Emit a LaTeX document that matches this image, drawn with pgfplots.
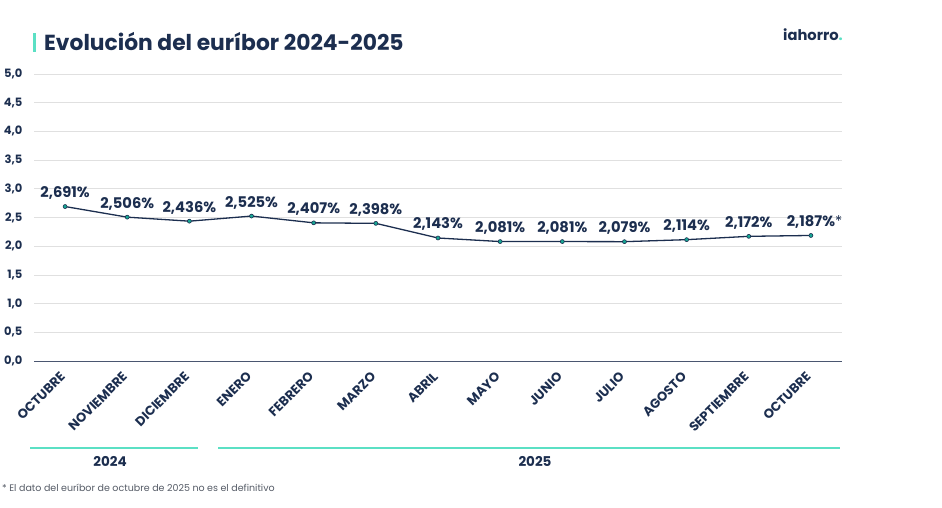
\documentclass[border=0pt]{standalone}
\usepackage{pgfplots}
\usepackage{pgfplotstable}
\pgfplotsset{compat=1.18}
\usepackage{fontspec}
\setmainfont{Poppins}

\definecolor{navy}{HTML}{1C2E4F}
\definecolor{accent}{HTML}{5BE0C4}
\definecolor{markteal}{HTML}{17A894}
\definecolor{gridgray}{HTML}{E0E0E0}
\definecolor{axisgray}{HTML}{4A5670}
\definecolor{notegray}{HTML}{555B66}

% euribor mensual, oct 2024 - oct 2025
\pgfplotstableread{
x y lab
0 2.691 2,691\%
1 2.506 2,506\%
2 2.436 2,436\%
3 2.525 2,525\%
4 2.407 2,407\%
5 2.398 2,398\%
6 2.143 2,143\%
7 2.081 2,081\%
8 2.081 2,081\%
9 2.079 2,079\%
10 2.114 2,114\%
11 2.172 2,172\%
12 2.187 2,187\%\rlap{\mdseries*}
}\euribor

\begin{document}
\begin{tikzpicture}
\path[use as bounding box] (0,0) rectangle (942pt,507pt);

% titulo
\fill[accent] (33pt,455pt) rectangle (35.5pt,474pt);
\node[anchor=base west, inner sep=0, text=navy,
      font=\bfseries\fontsize{21.8}{24}\selectfont] at (44pt,456pt)
      {Evolución del euríbor 2024-2025};
\node[anchor=base west, inner sep=0, text=navy,
      font=\bfseries\fontsize{14.7}{16}\selectfont] at (783pt,466pt)
      {iahorro{\color{accent}.}};

\begin{axis}[
    at={(34pt,146pt)}, anchor=south west,
    scale only axis, width=808pt, height=287pt,
    xmin=-0.5, xmax=12.5, ymin=0, ymax=5,
    xtick={0,...,12},
    xticklabels={OCTUBRE,NOVIEMBRE,DICIEMBRE,ENERO,FEBRERO,MARZO,ABRIL,MAYO,JUNIO,JULIO,AGOSTO,SEPTIEMBRE,OCTUBRE},
    ytick={0,0.5,1,1.5,2,2.5,3,3.5,4,4.5,5},
    separate axis lines,
    axis x line*=bottom, axis y line*=left,
    y axis line style={draw=none},
    x axis line style={draw=axisgray, line width=1pt},
    major tick length=0pt,
    ymajorgrids, grid style={draw=gridgray, line width=0.8pt},
    yticklabel style={text=navy, font=\bfseries\fontsize{11.5}{13}\selectfont},
    y tick label style={/pgf/number format/.cd, use comma, fixed, fixed zerofill, precision=1, assume math mode=true},
    yticklabel shift=8pt,
    xticklabel style={rotate=45, anchor=east, text=navy, font=\bfseries\fontsize{13}{15}\selectfont},
    xticklabel shift=11pt,
    clip=false,
]
\addplot[navy, line width=1.3pt, mark=*, mark size=2pt,
    mark options={fill=markteal, draw=navy, line width=0.6pt},
    nodes near coords, point meta=explicit symbolic,
    every node near coord/.append style={anchor=base, yshift=9pt, text=navy,
        font=\bfseries\fontsize{14.7}{16}\selectfont}]
    table[x=x, y=y, meta=lab] {\euribor};
\end{axis}

% años
\draw[accent, line width=2pt] (30pt,59pt) -- (198pt,59pt);
\draw[accent, line width=2pt] (218pt,59pt) -- (840pt,59pt);
\node[text=navy, font=\bfseries\fontsize{13.5}{15}\selectfont] at (110pt,46pt) {2024};
\node[text=navy, font=\bfseries\fontsize{13.5}{15}\selectfont] at (535pt,46pt) {2025};

\node[anchor=base west, inner sep=0, text=notegray, font=\fontsize{9.5}{11}\selectfont]
    at (2pt,16pt) {* El dato del euríbor de octubre de 2025 no es el definitivo};
\end{tikzpicture}
\end{document}
